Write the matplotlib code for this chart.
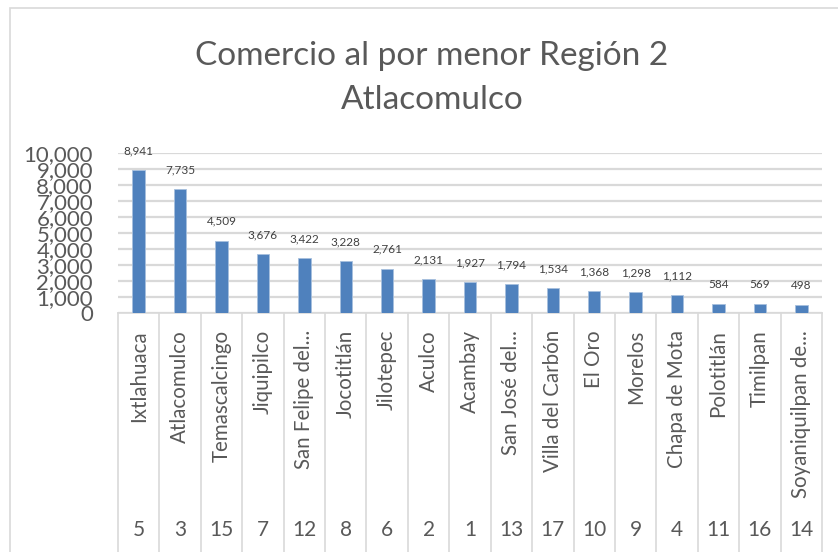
import matplotlib
matplotlib.use("Agg")
import matplotlib.pyplot as plt
import matplotlib.transforms as mtransforms
from matplotlib.patches import Rectangle

municipios = ["Ixtlahuaca", "Atlacomulco", "Temascalcingo", "Jiquipilco", "San Felipe del...",
              "Jocotitlán", "Jilotepec", "Aculco", "Acambay", "San José del...",
              "Villa del Carbón", "El Oro", "Morelos", "Chapa de Mota", "Polotitlán",
              "Timilpan", "Soyaniquilpan de..."]
claves = ["5", "3", "15", "7", "12", "8", "6", "2", "1", "13", "17", "10", "9", "4", "11", "16", "14"]
valores = [8941, 7735, 4509, 3676, 3422, 3228, 2761, 2131, 1927, 1794, 1534, 1368, 1298, 1112, 584, 569, 498]
yticks = list(range(0, 10001, 1000))

plt.rcParams['font.family'] = ['Lato', 'DejaVu Sans']
gris = '#595959'
linea = '#d9d9d9'

W, H = 838, 552
fig = plt.figure(figsize=(W / 100, H / 100), dpi=100)

# chart area border
fig.patches.append(Rectangle((10 / W, -0.1), 1.2, 1 - 8 / H + 0.1, transform=fig.transFigure,
                             fill=False, edgecolor=linea, linewidth=1.2))

x0, x1 = 118, 822
y_top, y_zero = 153, 313
ax = fig.add_axes([x0 / W, 1 - y_zero / H, (x1 - x0) / W, (y_zero - y_top) / H])

n = len(valores)
xs = list(range(n))
ax.bar(xs, valores, width=0.3, color='#4f81bd', edgecolor='#a7c0de', linewidth=0.6, zorder=3)
ax.set_xlim(-0.5, n - 0.5)
ax.set_ylim(0, 10000)
ax.set_yticks(yticks)
ax.set_yticklabels([f"{v:,}" for v in yticks], fontsize=16, color=gris)
ax.tick_params(axis='y', length=0, pad=18)
ax.set_xticks([])
ax.grid(axis='y', color=linea, linewidth=1.6, zorder=0)
for s in ['top', 'right', 'left']:
    ax.spines[s].set_visible(False)
ax.spines['bottom'].set_color(linea)
ax.spines['bottom'].set_linewidth(1.2)

for x, v in zip(xs, valores):
    ax.annotate(f"{v:,}", (x, v), xytext=(0, 14), textcoords='offset points',
                ha='center', va='center', fontsize=8.5, color='#404040')

# separators of the two-level category axis
trans = mtransforms.blended_transform_factory(ax.transData, ax.transAxes)
bottom = -(H - y_zero + 5) / (y_zero - y_top)
for b in range(n + 1):
    ax.plot([b - 0.5, b - 0.5], [0, bottom], transform=trans, color=linea,
            linewidth=1.2, clip_on=False)

for x, name, c in zip(xs, municipios, claves):
    ax.text(x, -(330 - y_zero) / (y_zero - y_top), name, transform=trans, rotation=90,
            ha='center', va='top', fontsize=14.8, color=gris)
    ax.text(x, -(530 - y_zero) / (y_zero - y_top), c, transform=trans,
            ha='center', va='center', fontsize=15, color=gris)

fig.text(432 / W, 1 - 78 / H, "Comercio al por menor Región 2\nAtlacomulco",
         ha='center', va='center', fontsize=24, color=gris, linespacing=1.55)

fig.savefig("out.png", dpi=100)
